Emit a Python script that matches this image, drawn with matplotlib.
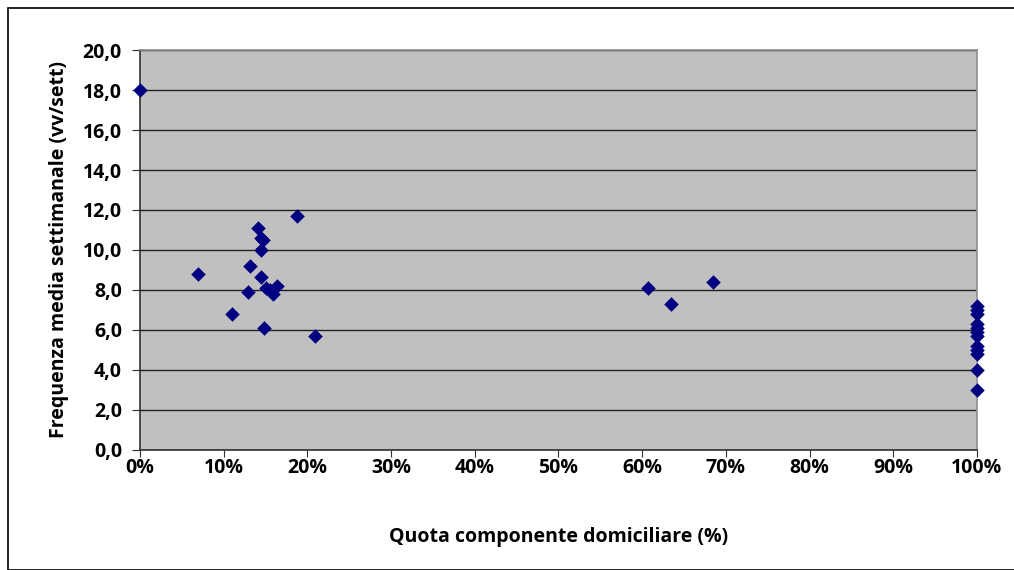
import numpy as np
import matplotlib.pyplot as plt
from matplotlib.patches import Rectangle
from matplotlib.ticker import FuncFormatter

# quota componente domiciliare (%) e frequenza media settimanale (vv/sett)
quota = [0, 6.9, 11.0, 12.9, 13.1, 14.1, 14.5, 14.7, 14.5, 14.5, 14.8, 15.1, 15.5,
         15.9, 16.4, 18.8, 20.9, 60.7, 63.5, 68.5,
         100, 100, 100, 100, 100, 100, 100, 100, 100, 100, 100, 100]
freq = [18.0, 8.8, 6.8, 7.9, 9.2, 11.1, 10.6, 10.5, 10.0, 8.65, 6.1, 8.1, 8.0,
        7.8, 8.2, 11.7, 5.7, 8.1, 7.3, 8.4,
        7.2, 7.0, 6.8, 6.3, 6.1, 5.9, 5.7, 5.2, 5.0, 4.8, 4.0, 3.0]

plt.rcParams['font.family'] = ['Open Sans', 'DejaVu Sans']
plt.rcParams['font.weight'] = 'bold'

fig = plt.figure(figsize=(10.14, 5.70), dpi=100)
ax = fig.add_axes([0.138, 0.211, 0.8255, 0.701])
ax.set_facecolor('#c0c0c0')

ax.scatter(np.array(quota) / 100, freq, marker='D', s=55, color='#000080', zorder=3,
           clip_on=False, linewidths=0)

ax.set_xlim(0, 1)
ax.set_ylim(0, 20)
ax.set_xticks(np.arange(0, 1.01, 0.1))
ax.set_yticks(np.arange(0, 20.1, 2))
ax.xaxis.set_major_formatter(FuncFormatter(lambda v, p: f"{v*100:.0f}%"))
ax.yaxis.set_major_formatter(FuncFormatter(lambda v, p: f"{v:.1f}".replace('.', ',')))
ax.grid(axis='y', color='#202020', linewidth=1.0)
ax.set_axisbelow(True)
for s in ('top', 'right'):
    ax.spines[s].set_color('#909090')
    ax.spines[s].set_linewidth(1.2)
for s in ('left', 'bottom'):
    ax.spines[s].set_color('#303030')
    ax.spines[s].set_linewidth(1.2)
ax.tick_params(axis='y', length=6, color='#303030', labelsize=14, pad=7)
ax.tick_params(axis='x', length=5, color='#303030', labelsize=14, pad=1)

ax.set_xlabel('Quota componente domiciliare (%)', fontsize=14, fontweight='bold', labelpad=35)
ax.set_ylabel('Frequenza media settimanale (vv/sett)', fontsize=14, fontweight='bold', labelpad=10)

fig.patches.append(Rectangle((8 / 1014, 0), 1.2, 1 - 8 / 570, transform=fig.transFigure,
                             fill=False, edgecolor='black', linewidth=1.2))

fig.savefig('out.png', dpi=100)
